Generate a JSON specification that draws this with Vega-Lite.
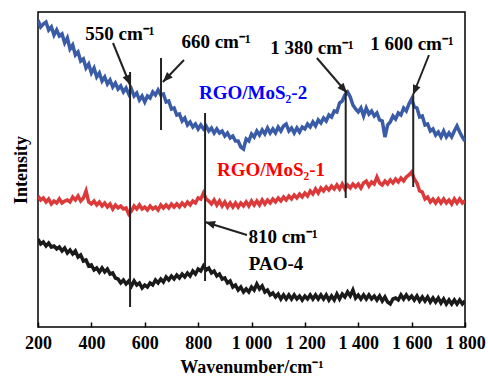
{
  "$schema": "https://vega.github.io/schema/vega-lite/v6.json",
  "width": 427,
  "height": 315,
  "autosize": "none",
  "padding": {"left": 38, "top": 12, "right": 23, "bottom": 50},
  "background": "white",
  "config": {
    "view": {"stroke": "black", "strokeWidth": 1.5},
    "font": "Liberation Serif",
    "axis": {"labelFont": "Liberation Serif", "titleFont": "Liberation Serif", "labelColor": "black", "titleColor": "black"}
  },
  "datasets": {
    "spec": [
{"w":200,"b":307,"r":131,"k":88},{"w":210,"b":300,"r":127,"k":83},{"w":220,"b":303,"r":129,"k":85},{"w":230,"b":305,"r":125,"k":81},{"w":240,"b":297,"r":128,"k":84},{"w":250,"b":300,"r":123,"k":80},{"w":260,"b":292,"r":126,"k":81},{"w":270,"b":297,"r":124,"k":78},{"w":280,"b":291,"r":128,"k":80},{"w":290,"b":293,"r":124,"k":76},{"w":300,"b":284,"r":126,"k":79},{"w":310,"b":289,"r":127,"k":74},{"w":320,"b":278,"r":125,"k":77},{"w":330,"b":282,"r":130,"k":73},{"w":340,"b":272,"r":127,"k":76},{"w":350,"b":275,"r":131,"k":70},{"w":360,"b":266,"r":126,"k":72},{"w":370,"b":268,"r":129,"k":66},{"w":380,"b":259,"r":136,"k":67},{"w":390,"b":263,"r":125,"k":61},{"w":400,"b":254,"r":123,"k":62},{"w":410,"b":259,"r":126,"k":57},{"w":420,"b":250,"r":122,"k":59},{"w":430,"b":254,"r":125,"k":55},{"w":440,"b":246,"r":121,"k":59},{"w":450,"b":250,"r":124,"k":55},{"w":460,"b":243,"r":120,"k":58},{"w":470,"b":247,"r":123,"k":53},{"w":480,"b":240,"r":118,"k":54},{"w":490,"b":244,"r":122,"k":49},{"w":500,"b":238,"r":119,"k":48},{"w":510,"b":241,"r":121,"k":44},{"w":520,"b":235,"r":118,"k":47},{"w":530,"b":239,"r":119,"k":43},{"w":540,"b":233,"r":113,"k":46},{"w":550,"b":238,"r":116,"k":41},{"w":560,"b":231,"r":121,"k":46},{"w":570,"b":234,"r":118,"k":42},{"w":580,"b":227,"r":122,"k":44},{"w":590,"b":231,"r":118,"k":39},{"w":600,"b":225,"r":120,"k":42},{"w":610,"b":231,"r":117,"k":40},{"w":620,"b":229,"r":121,"k":44},{"w":630,"b":235,"r":118,"k":42},{"w":640,"b":232,"r":120,"k":47},{"w":650,"b":237,"r":117,"k":44},{"w":660,"b":232,"r":122,"k":48},{"w":670,"b":233,"r":119,"k":45},{"w":680,"b":225,"r":122,"k":50},{"w":690,"b":226,"r":119,"k":47},{"w":700,"b":218,"r":123,"k":51},{"w":710,"b":219,"r":120,"k":48},{"w":720,"b":212,"r":123,"k":52},{"w":730,"b":213,"r":120,"k":49},{"w":740,"b":206,"r":124,"k":53},{"w":750,"b":209,"r":121,"k":50},{"w":760,"b":202,"r":125,"k":54},{"w":770,"b":205,"r":122,"k":51},{"w":780,"b":200,"r":126,"k":56},{"w":790,"b":203,"r":124,"k":53},{"w":800,"b":198,"r":129,"k":58},{"w":810,"b":202,"r":128,"k":56},{"w":820,"b":198,"r":134,"k":61},{"w":830,"b":201,"r":128,"k":57},{"w":840,"b":196,"r":126,"k":59},{"w":850,"b":199,"r":123,"k":54},{"w":860,"b":194,"r":127,"k":56},{"w":870,"b":198,"r":122,"k":51},{"w":880,"b":194,"r":126,"k":53},{"w":890,"b":196,"r":121,"k":48},{"w":900,"b":191,"r":125,"k":49},{"w":910,"b":194,"r":120,"k":44},{"w":920,"b":189,"r":124,"k":46},{"w":930,"b":191,"r":120,"k":40},{"w":940,"b":186,"r":124,"k":42},{"w":950,"b":186,"r":120,"k":37},{"w":960,"b":180,"r":124,"k":40},{"w":970,"b":178,"r":121,"k":35},{"w":980,"b":188,"r":125,"k":38},{"w":990,"b":186,"r":121,"k":35},{"w":1000,"b":193,"r":126,"k":40},{"w":1010,"b":190,"r":122,"k":37},{"w":1020,"b":196,"r":126,"k":43},{"w":1030,"b":192,"r":122,"k":38},{"w":1040,"b":197,"r":127,"k":41},{"w":1050,"b":193,"r":123,"k":35},{"w":1060,"b":199,"r":127,"k":37},{"w":1070,"b":194,"r":124,"k":32},{"w":1080,"b":198,"r":128,"k":34},{"w":1090,"b":194,"r":125,"k":30},{"w":1100,"b":200,"r":129,"k":33},{"w":1110,"b":196,"r":126,"k":28},{"w":1120,"b":201,"r":130,"k":32},{"w":1130,"b":203,"r":127,"k":28},{"w":1140,"b":196,"r":131,"k":32},{"w":1150,"b":199,"r":128,"k":28},{"w":1160,"b":194,"r":132,"k":32},{"w":1170,"b":199,"r":129,"k":28},{"w":1180,"b":195,"r":133,"k":31},{"w":1190,"b":200,"r":130,"k":27},{"w":1200,"b":198,"r":134,"k":31},{"w":1210,"b":203,"r":131,"k":28},{"w":1220,"b":200,"r":136,"k":32},{"w":1230,"b":205,"r":133,"k":28},{"w":1240,"b":201,"r":138,"k":32},{"w":1250,"b":207,"r":134,"k":28},{"w":1260,"b":204,"r":139,"k":32},{"w":1270,"b":209,"r":136,"k":28},{"w":1280,"b":206,"r":140,"k":32},{"w":1290,"b":212,"r":137,"k":27},{"w":1300,"b":210,"r":141,"k":31},{"w":1310,"b":216,"r":138,"k":27},{"w":1320,"b":215,"r":142,"k":33},{"w":1330,"b":224,"r":138,"k":28},{"w":1340,"b":226,"r":143,"k":33},{"w":1350,"b":232,"r":138,"k":30},{"w":1360,"b":235,"r":142,"k":35},{"w":1370,"b":230,"r":139,"k":31},{"w":1380,"b":222,"r":143,"k":37},{"w":1390,"b":218,"r":140,"k":29},{"w":1400,"b":215,"r":143,"k":32},{"w":1410,"b":219,"r":139,"k":28},{"w":1420,"b":211,"r":144,"k":32},{"w":1430,"b":219,"r":146,"k":28},{"w":1440,"b":213,"r":141,"k":32},{"w":1450,"b":216,"r":145,"k":28},{"w":1460,"b":211,"r":143,"k":31},{"w":1470,"b":214,"r":150,"k":27},{"w":1480,"b":207,"r":144,"k":31},{"w":1490,"b":206,"r":142,"k":26},{"w":1500,"b":190,"r":146,"k":30},{"w":1510,"b":202,"r":143,"k":25},{"w":1520,"b":205,"r":147,"k":23},{"w":1530,"b":211,"r":144,"k":28},{"w":1540,"b":208,"r":148,"k":29},{"w":1550,"b":214,"r":145,"k":27},{"w":1560,"b":212,"r":149,"k":32},{"w":1570,"b":219,"r":146,"k":28},{"w":1580,"b":216,"r":150,"k":32},{"w":1590,"b":223,"r":152,"k":28},{"w":1600,"b":228,"r":155,"k":31},{"w":1610,"b":220,"r":148,"k":27},{"w":1620,"b":219,"r":144,"k":31},{"w":1630,"b":210,"r":136,"k":26},{"w":1640,"b":211,"r":135,"k":30},{"w":1650,"b":202,"r":128,"k":26},{"w":1660,"b":203,"r":130,"k":30},{"w":1670,"b":196,"r":125,"k":25},{"w":1680,"b":198,"r":128,"k":29},{"w":1690,"b":192,"r":124,"k":25},{"w":1700,"b":195,"r":128,"k":29},{"w":1710,"b":190,"r":124,"k":24},{"w":1720,"b":196,"r":128,"k":28},{"w":1730,"b":190,"r":124,"k":23},{"w":1740,"b":194,"r":127,"k":27},{"w":1750,"b":190,"r":123,"k":23},{"w":1760,"b":196,"r":128,"k":27},{"w":1770,"b":201,"r":124,"k":23},{"w":1780,"b":195,"r":128,"k":27},{"w":1790,"b":190,"r":124,"k":23},{"w":1800,"b":186,"r":126,"k":26}
    ],
    "vlines": [
      {"x": 545, "y1": 255, "y2": 20},
      {"x": 661, "y1": 269, "y2": 197},
      {"x": 826, "y1": 214, "y2": 46},
      {"x": 1353, "y1": 237, "y2": 129},
      {"x": 1606, "y1": 232, "y2": 140}
    ],
    "arrows": [
      {"x1": 481, "y1": 284, "x2": 545, "y2": 242, "a": 158},
      {"x1": 747, "y1": 267, "x2": 668, "y2": 245, "a": 224},
      {"x1": 1245, "y1": 269, "x2": 1358, "y2": 234, "a": 139},
      {"x1": 1665, "y1": 272, "x2": 1605, "y2": 232, "a": 202},
      {"x1": 983, "y1": 92, "x2": 826, "y2": 105, "a": 287}
    ],
    "labels": [
      {"x": 507, "y": 293, "t": "550 cm⁻¹", "c": "black"},
      {"x": 867, "y": 285, "t": "660 cm⁻¹", "c": "black"},
      {"x": 1227, "y": 279, "t": "1 380 cm⁻¹", "c": "black"},
      {"x": 1601, "y": 283, "t": "1 600 cm⁻¹", "c": "black"},
      {"x": 1118, "y": 90, "t": "810 cm⁻¹", "c": "black"},
      {"x": 1092, "y": 63, "t": "PAO-4", "c": "black"},
      {"x": 1006, "y": 234, "t": "RGO/MoS₂-2", "c": "#0000ff"},
      {"x": 1073, "y": 157, "t": "RGO/MoS₂-1", "c": "#ff0000"}
    ]
  },
  "encoding": {
    "x": {"type": "quantitative", "scale": {"domain": [200, 1800], "nice": false, "zero": false},
      "axis": {"values": [200,400,600,800,1000,1200,1400,1600,1800], "labelExpr": "replace(format(datum.value, ','), ',', ' ')",
        "grid": false, "domain": false, "tickSize": -5, "tickWidth": 1.5, "tickColor": "black",
        "labelFontSize": 18, "labelFontWeight": "bold", "labelPadding": 12, "labelFlush": false,
        "title": "Wavenumber/cm⁻¹", "titleFontSize": 18, "titleFontWeight": "bold", "titlePadding": 6}},
    "y": {"type": "quantitative", "scale": {"domain": [0, 315], "nice": false, "zero": false},
      "axis": {"labels": false, "ticks": false, "grid": false, "domain": false,
        "title": "Intensity", "titleFontSize": 18, "titleFontWeight": "bold", "titlePadding": 8}}
  },
  "layer": [
    {
      "data": {"name": "spec"},
      "transform": [{"fold": ["b", "r", "k"], "as": ["series", "v"]}],
      "mark": {"type": "line", "strokeWidth": 3.5, "clip": true},
      "encoding": {
        "x": {"field": "w"},
        "y": {"field": "v"},
        "color": {"field": "series", "type": "nominal", "scale": {"domain": ["b", "r", "k"], "range": ["#3a5ba6", "#dc3a3a", "#1a1a1a"]}, "legend": null}
      }
    },
    {
      "data": {"name": "vlines"},
      "mark": {"type": "rule", "strokeWidth": 2, "color": "#222222"},
      "encoding": {"x": {"field": "x"}, "y": {"field": "y1"}, "y2": {"field": "y2"}}
    },
    {
      "data": {"name": "arrows"},
      "mark": {"type": "rule", "strokeWidth": 2, "color": "#222222"},
      "encoding": {"x": {"field": "x1"}, "y": {"field": "y1"}, "x2": {"field": "x2"}, "y2": {"field": "y2"}}
    },
    {
      "data": {"name": "arrows"},
      "mark": {"type": "point", "shape": "M0,0L0.4,1L-0.4,1Z", "filled": true, "color": "#222222", "size": 400, "opacity": 1},
      "encoding": {"x": {"field": "x2"}, "y": {"field": "y2"}, "angle": {"field": "a", "type": "quantitative", "scale": null}}
    },
    {
      "data": {"name": "labels"},
      "mark": {"type": "text", "font": "Liberation Serif", "fontWeight": "bold", "fontSize": 19, "align": "center", "baseline": "middle"},
      "encoding": {"x": {"field": "x"}, "y": {"field": "y"}, "text": {"field": "t"}, "color": {"field": "c", "type": "nominal", "scale": null}}
    }
  ]
}
